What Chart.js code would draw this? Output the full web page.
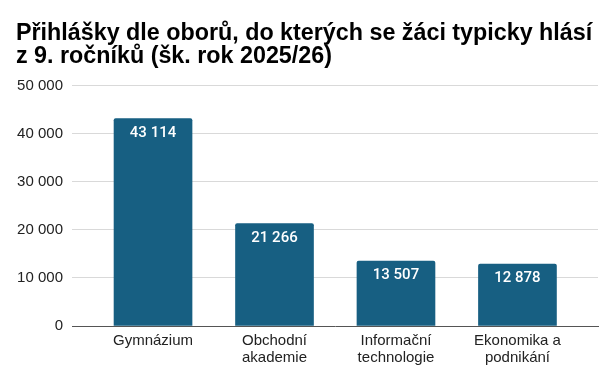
<!DOCTYPE html>
<html>
<head>
<meta charset="utf-8">
<script src="https://cdn.jsdelivr.net/npm/chart.js@4/dist/chart.umd.min.js"></script>
<style>
html,body{margin:0;padding:0;background:#fff;}
#wrap{width:614px;height:382px;position:relative;}
</style>
</head>
<body>
<div id="wrap"><canvas id="c"></canvas></div>
<script>
const titleLines = ["Přihlášky dle oborů, do kterých se žáci typicky hlásí", "z 9. ročníků (šk. rok 2025/26)"];
const categories = [["Gymnázium"], ["Obchodní", "akademie"], ["Informační", "technologie"], ["Ekonomika a", "podnikání"]];
const values = [43114, 21266, 13507, 12878];
const yTicks = [0, 10000, 20000, 30000, 40000, 50000];

const fmt = v => String(v).replace(/\B(?=(\d{3})+(?!\d))/g, ' ');
const FONT = "Arial, 'Liberation Sans', sans-serif";

const dataLabels = {
  id: 'dataLabels',
  afterDatasetsDraw(chart) {
    const ctx = chart.ctx;
    const meta = chart.getDatasetMeta(0);
    ctx.save();
    ctx.fillStyle = '#ffffff';
    ctx.font = "500 15px Roboto, sans-serif";
    ctx.textAlign = 'center';
    ctx.textBaseline = 'alphabetic';
    meta.data.forEach((el, i) => {
      ctx.fillText(fmt(values[i]), el.x, el.y + 18);
    });
    ctx.restore();
  }
};

new Chart(document.getElementById('c'), {
  type: 'bar',
  data: {
    datasets: [{
      data: values.map((v, i) => ({x: i, y: v})),
      backgroundColor: '#175f82',
      borderWidth: 0,
      borderRadius: 2,
      borderSkipped: 'bottom',
      barThickness: 78
    }]
  },
  options: {
    responsive: true,
    maintainAspectRatio: false,
    animation: false,
    devicePixelRatio: 1,
    layout: {padding: {left: 16, right: 16, top: 0, bottom: 0}},
    plugins: {
      legend: {display: false},
      tooltip: {enabled: false},
      title: {
        display: true,
        text: titleLines,
        align: 'start',
        color: '#000',
        font: {family: FONT, size: 23.3, weight: 'bold', lineHeight: 0.975},
        padding: {top: 22, bottom: 18}
      }
    },
    scales: {
      x: {
        type: 'linear',
        offset: false,
        min: -0.667,
        max: 3.663,
        z: 1,
        afterBuildTicks(scale) { scale.ticks = categories.map((c, i) => ({value: i})); },
        afterFit(scale) { scale.height = 56; },
        grid: {display: false, drawTicks: false},
        border: {display: true, color: '#555', width: 1},
        ticks: {
          autoSkip: false,
          maxRotation: 0,
          padding: 7,
          color: '#222',
          font: {family: FONT, size: 15, lineHeight: 1.1},
          callback: (v) => categories[v]
        }
      },
      y: {
        min: 0,
        max: 50000,
        afterBuildTicks(scale) { scale.ticks = yTicks.map(v => ({value: v})); },
        afterFit(scale) { scale.width = 56; },
        border: {display: false},
        grid: {
          drawTicks: false,
          color: ctx => ctx.tick && ctx.tick.value === 0 ? 'rgba(0,0,0,0)' : '#d9d9d9',
          lineWidth: 1
        },
        ticks: {
          padding: 9,
          color: '#222',
          font: {family: FONT, size: 15},
          callback: v => fmt(v)
        }
      }
    }
  },
  plugins: [dataLabels]
});
</script>
</body>
</html>
